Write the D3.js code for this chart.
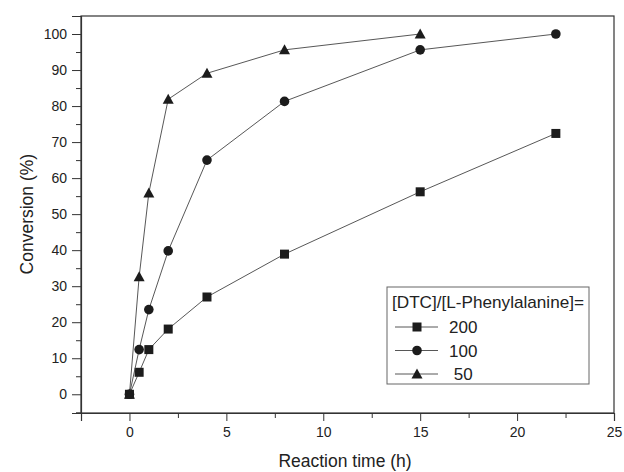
<!DOCTYPE html>
<html>
<head>
<meta charset="utf-8">
<script src="https://cdn.jsdelivr.net/npm/d3@7"></script>
<style>
    body { margin: 0; background: #fff; }
    svg { font-family: "Liberation Sans", Arial, sans-serif; }
</style>
</head>
<body>
<div id="chart"></div>
<script>
// time points (h)
const timesShort = [0, 0.5, 1, 2, 4, 8, 15];
const timesLong = [0, 0.5, 1, 2, 4, 8, 15, 22];

// conversion (%) for each [DTC]/[L-Phe] ratio
const conv200 = [0, 6.1, 12.4, 18.1, 27.0, 38.9, 56.2, 72.4];
const conv100 = [0, 12.4, 23.5, 39.8, 65.0, 81.3, 95.6, 100];
const conv50 = [0, 32.6, 55.9, 81.9, 89.1, 95.6, 100];

const seriesNames = ['200', '100', ' 50'];
const seriesSymbols = ['square', 'circle', 'triangle'];

const xTicks = [0, 5, 10, 15, 20, 25];
const yTicks = [0, 10, 20, 30, 40, 50, 60, 70, 80, 90, 100];

const series = [
    { name: seriesNames[0], symbol: seriesSymbols[0], xs: timesLong, ys: conv200 },
    { name: seriesNames[1], symbol: seriesSymbols[1], xs: timesLong, ys: conv100 },
    { name: seriesNames[2], symbol: seriesSymbols[2], xs: timesShort, ys: conv50 }
];

const width = 624, height = 472;
const margin = { top: 16, right: 10, bottom: 59, left: 81 };
const innerW = width - margin.left - margin.right;
const innerH = height - margin.top - margin.bottom;

const svg = d3.select('#chart').append('svg')
    .attr('width', width)
    .attr('height', height);

const g = svg.append('g').attr('transform', `translate(${margin.left},${margin.top})`);

const x = d3.scaleLinear().domain([-2.5, 25]).range([0, innerW]);
const y = d3.scaleLinear().domain([-5.2, 105]).range([innerH, 0]);

const ink = '#1c1c1c';

// frame
g.append('rect')
    .attr('width', innerW).attr('height', innerH)
    .attr('fill', 'none').attr('stroke', '#333').attr('stroke-width', 1.2);

// x axis major + minor
g.append('g').attr('transform', `translate(0,${innerH})`)
    .call(d3.axisBottom(x).tickValues(xTicks).tickSize(8).tickPadding(6).tickFormat(d3.format('d')));
g.append('g').attr('transform', `translate(0,${innerH})`)
    .call(d3.axisBottom(x).tickValues([-2.5, 2.5, 7.5, 12.5, 17.5, 22.5]).tickSize(5).tickFormat(''))
    .call(a => a.select('.domain').remove());

// y axis major + minor
g.append('g')
    .call(d3.axisLeft(y).tickValues(yTicks).tickSize(9).tickPadding(5));
g.append('g')
    .call(d3.axisLeft(y).tickValues(d3.range(-5, 105, 10)).tickSize(5).tickFormat(''))
    .call(a => a.select('.domain').remove());

svg.selectAll('.tick line').attr('stroke', '#333');
svg.selectAll('.domain').attr('stroke', '#333').attr('stroke-width', 1.2);
svg.selectAll('.tick text').attr('font-size', 14).attr('fill', '#222')
    .attr('font-family', '"Liberation Sans", Arial, sans-serif');

// axis titles
svg.append('text')
    .attr('x', 345).attr('y', 467)
    .attr('text-anchor', 'middle').attr('font-size', 17.5).attr('fill', '#222')
    .text('Reaction time (h)');
svg.append('text')
    .attr('transform', `translate(33,${margin.top + y(50)}) rotate(-90)`)
    .attr('text-anchor', 'middle').attr('font-size', 17.5).attr('fill', '#222')
    .text('Conversion (%)');

function drawSymbol(sel, type, cx, cy) {
    if (type === 'square') {
        sel.append('rect').attr('x', cx - 4.5).attr('y', cy - 4.5)
            .attr('width', 9).attr('height', 9).attr('fill', ink);
    } else if (type === 'circle') {
        sel.append('circle').attr('cx', cx).attr('cy', cy).attr('r', 4.8).attr('fill', ink);
    } else {
        sel.append('path')
            .attr('d', `M${cx},${cy - 5.5}L${cx + 5.5},${cy + 4.5}L${cx - 5.5},${cy + 4.5}Z`)
            .attr('fill', ink);
    }
}

const line = d3.line().x(d => x(d[0])).y(d => y(d[1]));

series.forEach(s => {
    const pts = s.xs.map((t, i) => [t, s.ys[i]]);
    g.append('path').datum(pts)
        .attr('d', line)
        .attr('fill', 'none').attr('stroke', '#444').attr('stroke-width', 0.9);
    const mg = g.append('g');
    pts.forEach(p => drawSymbol(mg, s.symbol, x(p[0]), y(p[1])));
});

// legend
const lg = svg.append('g').attr('transform', 'translate(387,287)');
lg.append('rect').attr('width', 202).attr('height', 97)
    .attr('fill', '#fff').attr('stroke', '#666').attr('stroke-width', 1);
lg.append('text').attr('x', 5).attr('y', 21).attr('font-size', 17).attr('fill', '#222')
    .attr('textLength', 192).attr('lengthAdjust', 'spacingAndGlyphs')
    .text('[DTC]/[L-Phenylalanine]=');
series.forEach((s, i) => {
    const cy = 40 + i * 23.5;
    lg.append('line').attr('x1', 8).attr('x2', 51).attr('y1', cy).attr('y2', cy)
        .attr('stroke', '#444').attr('stroke-width', 0.9);
    drawSymbol(lg, s.symbol, 30, cy);
    lg.append('text').attr('x', 62).attr('y', cy + 6).attr('font-size', 17).attr('fill', '#222')
        .attr('xml:space', 'preserve').style('white-space', 'pre')
        .text(s.name);
});
</script>
</body>
</html>
